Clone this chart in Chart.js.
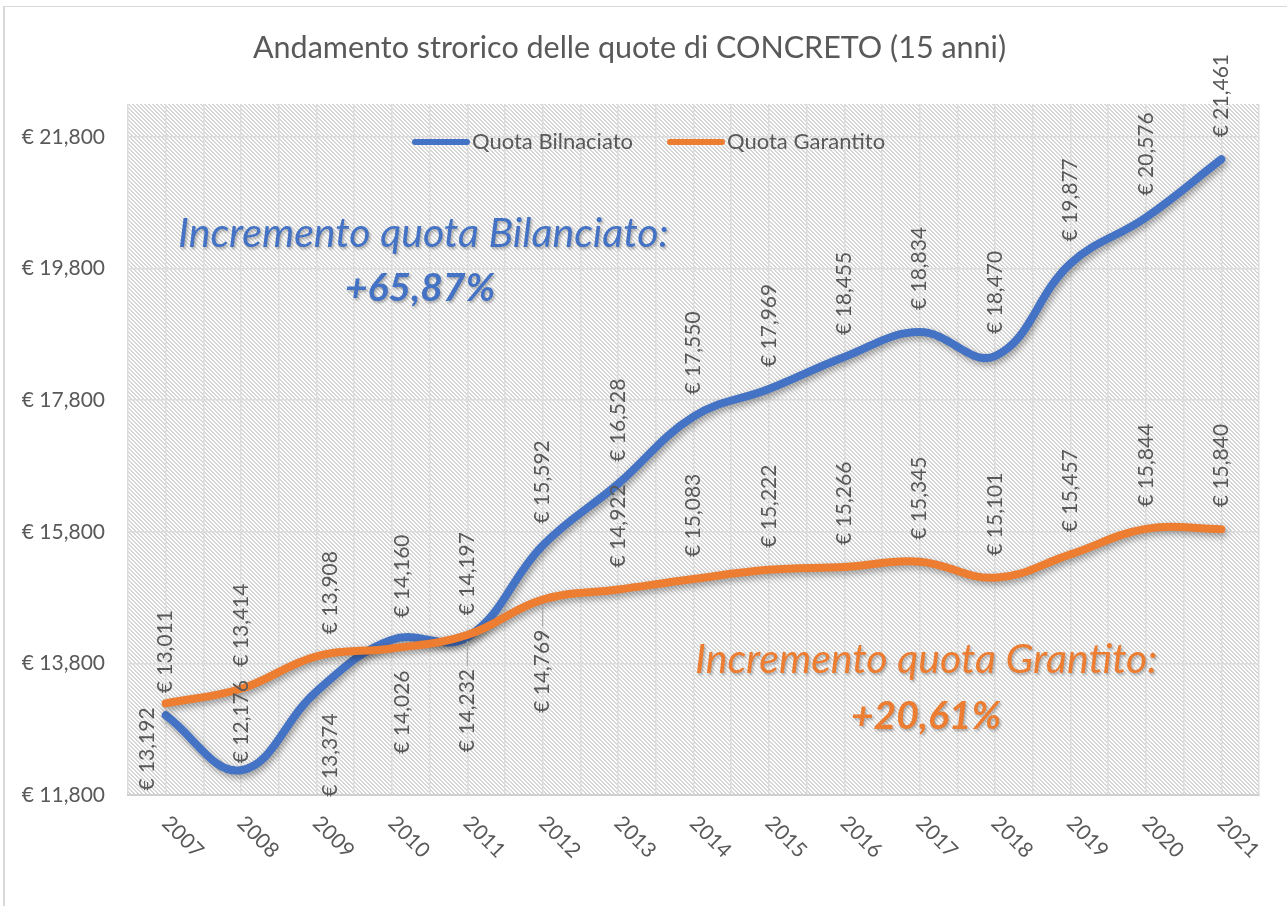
<!DOCTYPE html>
<html lang="it">
<head>
<meta charset="utf-8">
<title>Andamento storico quote CONCRETO</title>
<script src="https://cdn.jsdelivr.net/npm/chart.js@4/dist/chart.umd.min.js"></script>
<style>
  html, body { margin: 0; padding: 0; background: #fff; }
  #contenitore { position: relative; width: 1287px; height: 906px; }
</style>
</head>
<body>
<div id="contenitore"><canvas id="grafico"></canvas></div>
<script>
// Dati
const anni = [2007, 2008, 2009, 2010, 2011, 2012, 2013, 2014, 2015, 2016, 2017, 2018, 2019, 2020, 2021];
const quotaBilanciato = [13011, 12176, 13374, 14160, 14197, 15592, 16528, 17550, 17969, 18455, 18834, 18470, 19877, 20576, 21461];
const quotaGarantito = [13192, 13414, 13908, 14026, 14232, 14769, 14922, 15083, 15222, 15266, 15345, 15101, 15457, 15844, 15840];
const tickAsseY = [11800, 13800, 15800, 17800, 19800, 21800];

const BLU = '#4472C4';
const ARANCIO = '#ED7D31';
const GRIGIO = '#595959';
const FONT = 'Lato, "Open Sans", sans-serif';

// Etichette dati sotto la linea (per indice dataset) e piccoli spostamenti
const etichetteSotto = { 0: [2009], 1: [2007, 2010, 2011, 2012] };
const aggiustaEtichetta = {
    '0-2008': { gap: 7 },
    '1-2007': { dx: -18, gap: 4 },
    '0-2009': { dx: 14 }, '1-2009': { dx: 14 },
    '0-2010': { dx: 10 }, '1-2010': { dx: 10 },
    '1-2011': { gap: 34 }, '1-2012': { gap: 30 }
};

function formatoEuro(v) {
    return '€ ' + v.toLocaleString('en-US');
}

// Sfondo tratteggiato dell'area del grafico
function creaTratteggio(ctx) {
    const c = document.createElement('canvas');
    c.width = 4; c.height = 4;
    const g = c.getContext('2d');
    g.fillStyle = '#fff';
    g.fillRect(0, 0, 4, 4);
    g.fillStyle = '#d6d6d6';
    for (let y = 0; y < 4; y++) {
        for (let x = 0; x < 4; x++) {
            if (((x - y) % 4 + 4) % 4 < 2) g.fillRect(x, y, 1, 1);
        }
    }
    return ctx.createPattern(c, 'repeat');
}

const pluginSfondo = {
    id: 'sfondo',
    beforeDraw(chart) {
        const { ctx, chartArea: a } = chart;
        ctx.save();
        ctx.fillStyle = '#fff';
        ctx.fillRect(0, 0, chart.width, chart.height);
        // bordo esterno
        ctx.fillStyle = '#d9d9d9';
        ctx.fillRect(3, 6, 2, chart.height);
        ctx.fillRect(3, 6, chart.width, 1);
        ctx.fillStyle = creaTratteggio(ctx);
        ctx.fillRect(a.left, a.top, a.right - a.left, a.bottom - a.top);
        ctx.restore();
    }
};

// Ombra sotto le linee
const pluginOmbra = {
    id: 'ombra',
    beforeDatasetDraw(chart) {
        const ctx = chart.ctx;
        ctx.save();
        ctx.shadowColor = 'rgba(0,0,0,0.38)';
        ctx.shadowBlur = 7;
        ctx.shadowOffsetX = 2;
        ctx.shadowOffsetY = 3;
    },
    afterDatasetDraw(chart) {
        chart.ctx.restore();
    }
};

// Etichette dati verticali, etichette anni inclinate, legenda e testi
const pluginTesti = {
    id: 'testi',
    afterDraw(chart) {
        const ctx = chart.ctx;
        const a = chart.chartArea;
        ctx.save();

        // etichette dati
        ctx.font = '21px ' + FONT;
        ctx.fillStyle = GRIGIO;
        ctx.textBaseline = 'middle';
        chart.data.datasets.forEach((ds, di) => {
            const meta = chart.getDatasetMeta(di);
            meta.data.forEach((pt, i) => {
                const anno = anni[i];
                const agg = aggiustaEtichetta[di + '-' + anno] || {};
                const sotto = etichetteSotto[di].includes(anno);
                const gap = agg.gap !== undefined ? agg.gap : 22;
                const x = pt.x + (agg.dx || 0);
                // linea guida per le etichette lontane dal punto
                if (sotto && gap > 25) {
                    ctx.save();
                    ctx.strokeStyle = '#a6a6a6';
                    ctx.lineWidth = 1;
                    ctx.beginPath();
                    ctx.moveTo(x, pt.y + 6);
                    ctx.lineTo(x, pt.y + gap - 3);
                    ctx.stroke();
                    ctx.restore();
                }
                ctx.save();
                ctx.translate(x, sotto ? pt.y + gap : pt.y - gap);
                ctx.rotate(-Math.PI / 2);
                ctx.textAlign = sotto ? 'right' : 'left';
                ctx.fillText(formatoEuro(ds.data[i]), 0, 0);
                ctx.restore();
            });
        });

        // anni sull'asse x, inclinati verso il basso
        const scalaX = chart.scales.x;
        ctx.font = '21px ' + FONT;
        ctx.textAlign = 'center';
        anni.forEach(anno => {
            const x = scalaX.getPixelForValue(anno);
            ctx.save();
            ctx.translate(x + 17, a.bottom + 42);
            ctx.rotate(Math.PI / 4);
            ctx.fillText(String(anno), 0, 0);
            ctx.restore();
        });

        // legenda
        const voci = [
            { testo: 'Quota Bilnaciato', colore: BLU, x: 412 },
            { testo: 'Quota Garantito', colore: ARANCIO, x: 667 }
        ];
        const yLeg = a.top + 38;
        ctx.font = '22px ' + FONT;
        ctx.textAlign = 'left';
        ctx.lineCap = 'round';
        voci.forEach(v => {
            ctx.strokeStyle = v.colore;
            ctx.lineWidth = 6;
            ctx.beginPath();
            ctx.moveTo(v.x + 3, yLeg);
            ctx.lineTo(v.x + 55, yLeg);
            ctx.stroke();
            ctx.fillStyle = GRIGIO;
            ctx.fillText(v.testo, v.x + 60, yLeg);
        });

        // testi di incremento
        ctx.shadowColor = 'rgba(0,0,0,0.3)';
        ctx.shadowBlur = 3;
        ctx.shadowOffsetX = 1.5;
        ctx.shadowOffsetY = 1.5;
        ctx.textBaseline = 'alphabetic';
        ctx.fillStyle = BLU;
        ctx.textAlign = 'left';
        ctx.font = 'italic 41px ' + FONT;
        ctx.fillText('Incremento quota Bilanciato:', 178, 247);
        ctx.textAlign = 'center';
        ctx.font = 'italic bold 39px ' + FONT;
        ctx.fillText('+65,87%', 420, 301);

        ctx.fillStyle = ARANCIO;
        ctx.textAlign = 'left';
        ctx.font = 'italic 41px ' + FONT;
        ctx.fillText('Incremento quota Grantito:', 695, 673);
        ctx.textAlign = 'center';
        ctx.font = 'italic bold 39px ' + FONT;
        ctx.fillText('+20,61%', 926, 729);

        ctx.restore();
    }
};

const ctx = document.getElementById('grafico').getContext('2d');

new Chart(ctx, {
    type: 'line',
    data: {
        labels: anni,
        datasets: [
            {
                label: 'Quota Bilnaciato',
                data: quotaBilanciato,
                borderColor: BLU,
                backgroundColor: BLU,
                borderWidth: 8,
                tension: 0.4,
                pointRadius: 0,
                borderCapStyle: 'round',
                order: 1
            },
            {
                label: 'Quota Garantito',
                data: quotaGarantito,
                borderColor: ARANCIO,
                backgroundColor: ARANCIO,
                borderWidth: 8,
                tension: 0.4,
                pointRadius: 0,
                borderCapStyle: 'round',
                order: 0
            }
        ]
    },
    options: {
        responsive: true,
        maintainAspectRatio: false,
        animation: false,
        layout: { padding: { left: 0, right: 28, top: 0, bottom: 0 } },
        plugins: {
            legend: { display: false },
            tooltip: { enabled: false },
            title: {
                display: true,
                text: 'Andamento strorico delle quote di CONCRETO (15 anni)',
                color: GRIGIO,
                font: { family: FONT, size: 30.5, weight: 'normal' },
                padding: { top: 30, bottom: 37.4 }
            }
        },
        scales: {
            x: {
                type: 'linear',
                min: anni[0] - 0.5,
                max: anni[anni.length - 1] + 0.5,
                afterBuildTicks(scale) {
                    const t = [];
                    anni.forEach(a => { t.push({ value: a - 0.5 }); t.push({ value: a }); });
                    t.push({ value: anni[anni.length - 1] + 0.5 });
                    scale.ticks = t;
                },
                afterFit(scale) { scale.height = 111; },
                ticks: { display: false },
                grid: { color: '#dcdcdc', lineWidth: 1.5, drawTicks: false },
                border: { color: '#d0d0d0', width: 2 }
            },
            y: {
                min: tickAsseY[0],
                max: 22300,
                afterBuildTicks(scale) {
                    scale.ticks = tickAsseY.map(v => ({ value: v }));
                },
                afterFit(scale) { scale.width = 128; },
                ticks: {
                    color: GRIGIO,
                    font: { family: FONT, size: 21 },
                    padding: 23,
                    callback: v => formatoEuro(v)
                },
                grid: { color: '#dcdcdc', lineWidth: 1.5, drawTicks: false },
                border: { display: false }
            }
        }
    },
    plugins: [pluginSfondo, pluginOmbra, pluginTesti]
});
</script>
</body>
</html>
